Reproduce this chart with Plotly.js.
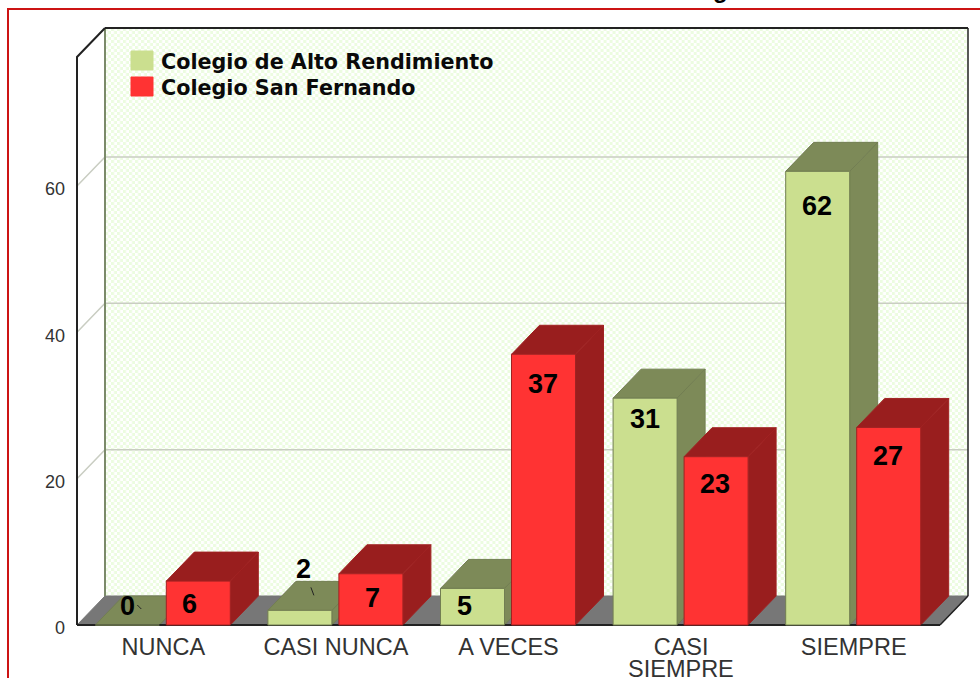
<!DOCTYPE html>
<html>
<head>
<meta charset="utf-8">
<script src="https://cdn.plot.ly/plotly-3.0.1.min.js"></script>
<style>html,body{margin:0;padding:0;background:#fff;overflow:hidden}</style>
</head>
<body>
<div id="chart" style="width:980px;height:678px"></div>
<script>
// Data
const categories = ["NUNCA", "CASI NUNCA", "A VECES", "CASI", "SIEMPRE"];
const wrappedCategorySecondLine = {index: 3, text: "SIEMPRE"};
const seriesAName = "Colegio de Alto Rendimiento";
const seriesBName = "Colegio San Fernando";
const seriesA = [0, 2, 5, 31, 62];
const seriesB = [6, 7, 37, 23, 27];
const yTicks = [0, 20, 40, 60];

// Scales (pixels per data unit) and 3D look
const PXX = 172.6, PXY = 7.317;
const DEPTHX = 28 / PXX, DEPTHY = 29 / PXY;
const BARW = 64 / PXX;
const OFFA = -68 / PXX, OFFB = 3 / PXX;
const PAD = 5;
const XMIN = -0.5 - PAD / PXX, XFRONT = 4.5, XMAX = 4.5 + (27 + PAD) / PXX;
const YMIN = -PAD / PXY, YTOP = (625 - 28) / PXY, YMAX = YTOP + PAD / PXY;
const PLOT = {l: 72, t: 23, w: 900, h: 607};
const paperX = px => (px - PLOT.l) / PLOT.w;
const paperY = py => (PLOT.t + PLOT.h - py) / PLOT.h;

// Label nudges, in pixels relative to bar centre / bar top
const labelShiftA = {x: [0, 4, -8, 0, -1], y: [19, 41, -18, -21, -35]};
const labelShiftB = {x: [-9, 2, -1, -1, -1], y: [-23, -24, -30, -27, -29]};

const COL = {
  aFront: "#cbdf8f", aDark: "#7d8a58", aEdge: "#727e52",
  bFront: "#ff3333", bDark: "#991e1e", bEdge: "#a02222",
  floor: "#777777", axis: "#222222", grid: "#c9cdc2", wall: "#7b8a6a", text: "#333333"
};

const poly = (pts, fill, line) => ({
  type: "path", xref: "x", yref: "y", layer: "between",
  path: "M" + pts.map(p => p[0] + "," + p[1]).join(" L") + " Z",
  fillcolor: fill, line: {color: line || fill, width: 1}
});
const seg = (pts, color, width, layer) => ({
  type: "path", xref: "x", yref: "y", layer: layer || "between",
  path: "M" + pts.map(p => p[0] + "," + p[1]).join(" L"),
  line: {color, width}
});

function faces(vals, off, dark, edge) {
  const out = [];
  vals.forEach((v, i) => {
    const x0 = i + off, x1 = x0 + BARW;
    out.push(poly([[x1, 0], [x1 + DEPTHX, DEPTHY], [x1 + DEPTHX, v + DEPTHY], [x1, v]], dark, edge));
    out.push(poly([[x0, v], [x0 + DEPTHX, v + DEPTHY], [x1 + DEPTHX, v + DEPTHY], [x1, v]], dark, edge));
  });
  return out;
}

const XBACK = -0.5 + DEPTHX, XEND = XFRONT + DEPTHX;
const shapes = [];
shapes.push(poly([[-0.5, 0], [XBACK, DEPTHY], [XEND, DEPTHY], [XFRONT, 0]], COL.floor));
yTicks.filter(t => t > 0).forEach(t => {
  shapes.push(seg([[-0.5, t], [XBACK, t + DEPTHY], [XEND, t + DEPTHY]], COL.grid, 1.5));
});
shapes.push(seg([[XBACK, DEPTHY], [XBACK, YTOP]], COL.wall, 2));
shapes.push(seg([[XEND, DEPTHY], [XEND, YTOP]], COL.axis, 1.5));
shapes.push(seg([[XBACK, YTOP], [XEND, YTOP]], COL.axis, 2));
shapes.push(seg([[-0.5, 0], [-0.5, YTOP - DEPTHY], [XBACK, YTOP]], COL.axis, 2));
shapes.push(...faces(seriesA, OFFA, COL.aDark, COL.aEdge));
shapes.push(...faces(seriesB, OFFB, COL.bDark, COL.bEdge));
shapes.push(seg([[-0.5, 0], [XFRONT, 0]], COL.axis, 2));
shapes.push(seg([[XFRONT, 0], [XEND, DEPTHY]], COL.axis, 1.5));
// legend swatches
shapes.push(poly([[-0.5 + 54 / PXX, YTOP - 23 / PXY], [-0.5 + 76 / PXX, YTOP - 23 / PXY], [-0.5 + 76 / PXX, YTOP - 42 / PXY], [-0.5 + 54 / PXX, YTOP - 42 / PXY]], COL.aFront));
shapes.push(poly([[-0.5 + 54 / PXX, YTOP - 49 / PXY], [-0.5 + 76 / PXX, YTOP - 49 / PXY], [-0.5 + 76 / PXX, YTOP - 68 / PXY], [-0.5 + 54 / PXX, YTOP - 68 / PXY]], COL.bFront));
// leader ticks for small values
shapes.push(seg([[OFFA + BARW / 2 + 10 / PXX, seriesA[0] + 20 / PXY], [OFFA + BARW / 2 + 14 / PXX, seriesA[0] + 16 / PXY]], "#222", 1, "above"));
shapes.push(seg([[1 + OFFA + BARW / 2 + 11 / PXX, seriesA[1] + 23 / PXY], [1 + OFFA + BARW / 2 + 14 / PXX, seriesA[1] + 15 / PXY]], "#222", 1, "above"));
// outer red frame
shapes.push({type: "path", xref: "paper", yref: "paper", layer: "above",
  path: "M" + paperX(8) + "," + paperY(690) + " L" + paperX(8) + "," + paperY(9) + " L" + paperX(985) + "," + paperY(9),
  line: {color: "#cc1414", width: 2}});

const labels = (vals, off, sh) => vals.map((v, i) => ({
  x: i + off + BARW / 2, y: v, xref: "x", yref: "y", text: String(v), showarrow: false,
  xanchor: "center", yanchor: "middle", xshift: sh.x[i], yshift: sh.y[i],
  font: {family: "Liberation Sans, Arial, sans-serif", size: 27, color: "#000", weight: 700}
}));
const legendText = (t, dy) => ({
  x: -0.5 + 84 / PXX, y: YTOP - dy / PXY, xref: "x", yref: "y", text: t, showarrow: false,
  xanchor: "left", yanchor: "middle", xshift: -2,
  font: {family: "DejaVu Sans, Liberation Sans, sans-serif", size: 20.7, color: "#0a0a0a", weight: 700}
});

const pattern = "data:image/svg+xml;utf8," + encodeURIComponent(
  '<svg xmlns="http://www.w3.org/2000/svg" width="862" height="568"><defs><pattern id="p" width="6" height="6" patternUnits="userSpaceOnUse">' +
  '<rect width="6" height="6" fill="#ffffff"/><rect x="0" y="0" width="3" height="3" fill="#ecfce0"/><rect x="3" y="3" width="3" height="3" fill="#ecfce0"/>' +
  '</pattern></defs><rect width="862" height="568" fill="url(#p)"/></svg>');

const bar = (name, vals, off, color, edge) => ({
  type: "bar", name, x: categories.map((_, i) => i), y: vals,
  width: BARW, offset: off, marker: {color, line: {color: edge, width: 1}},
  hoverinfo: "x+y+name", showlegend: false
});

Plotly.newPlot("chart", [
  bar(seriesAName, seriesA, OFFA, COL.aFront, COL.aEdge),
  bar(seriesBName, seriesB, OFFB, COL.bFront, COL.bEdge)
], {
  width: 980, height: 678, autosize: false,
  margin: {l: PLOT.l, r: 980 - PLOT.l - PLOT.w, t: PLOT.t, b: 678 - PLOT.t - PLOT.h, pad: 0},
  paper_bgcolor: "#fff", plot_bgcolor: "rgba(0,0,0,0)",
  barmode: "overlay", showlegend: false,
  xaxis: {range: [XMIN, XMAX], tickvals: categories.map((_, i) => i), ticktext: categories,
    showgrid: false, zeroline: false, showline: false, ticks: "", tickangle: 0,
    tickfont: {family: "Liberation Sans, Arial, sans-serif", size: 23.5, color: COL.text}},
  yaxis: {range: [YMIN, YMAX], tickvals: yTicks, showgrid: false, zeroline: false, showline: false, ticks: "",
    ticklabelstandoff: 6, ticklabelshift: 3,
    tickfont: {family: "Liberation Sans, Arial, sans-serif", size: 18, color: COL.text}},
  images: [{source: pattern, xref: "x", yref: "y", x: XBACK, y: YTOP, sizex: XEND - XBACK, sizey: YTOP - DEPTHY,
    sizing: "stretch", xanchor: "left", yanchor: "top", layer: "below"}],
  shapes,
  annotations: [...labels(seriesA, OFFA, labelShiftA), ...labels(seriesB, OFFB, labelShiftB),
    legendText(seriesAName, 34), legendText(seriesBName, 60),
    {x: wrappedCategorySecondLine.index, y: paperY(669), xref: "x", yref: "paper", text: wrappedCategorySecondLine.text,
     showarrow: false, xanchor: "center", yanchor: "middle",
     font: {family: "Liberation Sans, Arial, sans-serif", size: 23.5, color: COL.text}},
    {x: paperX(720), y: paperY(-11), xref: "paper", yref: "paper", text: "g", showarrow: false,
     xanchor: "center", yanchor: "middle",
     font: {family: "Liberation Sans, Arial, sans-serif", size: 24, color: "#000", weight: 700}}]
}, {displayModeBar: false, staticPlot: true});
</script>
</body>
</html>
